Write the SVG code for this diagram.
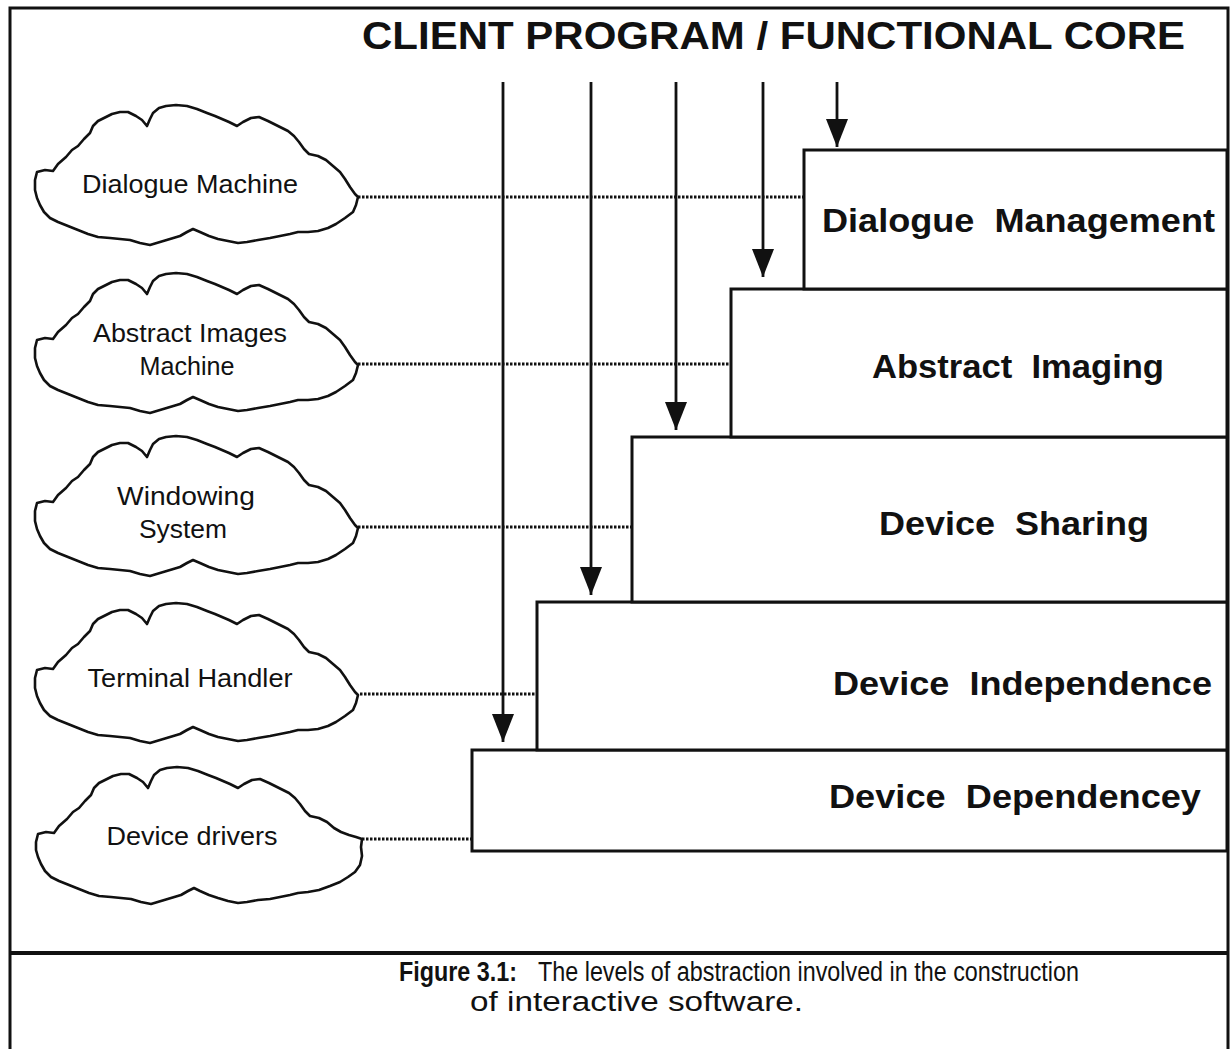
<svg xmlns="http://www.w3.org/2000/svg" xmlns:xlink="http://www.w3.org/1999/xlink" width="1232" height="1049" viewBox="0 0 1232 1049">
<style>
.frame{fill:none;stroke:#111;stroke-width:3}
.box{fill:#fff;stroke:#111;stroke-width:3}
.cloud{fill:#fff;stroke:#111;stroke-width:2.6;stroke-linejoin:round}
.dot{fill:none;stroke:#111;stroke-width:2.8;stroke-dasharray:2.5 1.5}
.arr{fill:none;stroke:#111;stroke-width:2.8}
.title{font-family:"Liberation Sans",Arial,sans-serif;font-weight:bold;font-size:39px;fill:#111}
.lbl{font-family:"Liberation Sans",Arial,sans-serif;font-weight:bold;font-size:33px;fill:#111}
.ct{font-family:"Liberation Sans",Arial,sans-serif;font-size:26px;fill:#111;text-anchor:middle}
.cap{font-family:"Liberation Sans",Arial,sans-serif;font-size:27px;fill:#111}
</style>
<defs>
<marker id="ah" markerUnits="userSpaceOnUse" markerWidth="30" markerHeight="24" refX="28" refY="11" orient="auto" viewBox="0 0 30 22">
<path d="M0,0 L28,11 L0,22 Z" fill="#111"/>
</marker>
<path id="cloudA" d="M35,180 L37,172 L45,170 L53,171 L58,164 L66,157 L72,150 L78,146 L84,139 L90,133 L93,126 L98,121 L106,117 L112,114 L120,112 L128,112 L136,116 L142,120 L147,126 L150,119 L153,113 L159,108 L166,106 L176,105 L187,106 L197,109 L207,113 L215,116 L222,119 L229,122 L237,126 L243,122 L251,118 L259,117 L268,121 L278,126 L288,131 L294,136 L299,142 L304,149 L309,154 L318,156 L326,160 L333,166 L340,172 L345,179 L350,187 L355,194 L358,197 L356,205 L353,212 L345,218 L336,224 L328,228 L318,231 L308,232 L298,232 L290,234 L280,236 L270,238 L258,240 L247,242 L238,243 L228,241 L218,239 L209,236 L200,232 L193,229 L187,232 L180,236 L170,239 L160,242 L150,245 L140,243 L130,240 L120,239 L110,238 L98,237 L88,234 L78,230 L68,226 L58,222 L50,218 L44,212 L40,205 L37,198 L35,190 Z"/>
</defs>
<rect x="0" y="0" width="1232" height="1049" fill="#fff"/>
<g id="frame">
<path class="frame" d="M10,1049 L10,8 L1228,8 L1228,1049"/>
<line x1="10" y1="953" x2="1228" y2="953" stroke="#111" stroke-width="4"/>
</g>
<g id="title">
<text class="title" x="362" y="49" textLength="823" lengthAdjust="spacingAndGlyphs">CLIENT PROGRAM / FUNCTIONAL CORE</text>
</g>
<g id="connectors">
<line class="dot" x1="358" y1="197" x2="804" y2="197"/>
<line class="dot" x1="358" y1="364" x2="731" y2="364"/>
<line class="dot" x1="358" y1="527" x2="632" y2="527"/>
<line class="dot" x1="360" y1="694" x2="537" y2="694"/>
<line class="dot" x1="362" y1="839" x2="472" y2="839"/>
<line class="arr" x1="503" y1="82" x2="503" y2="742" marker-end="url(#ah)"/>
<line class="arr" x1="591" y1="82" x2="591" y2="595" marker-end="url(#ah)"/>
<line class="arr" x1="676" y1="82" x2="676" y2="430" marker-end="url(#ah)"/>
<line class="arr" x1="763" y1="82" x2="763" y2="277" marker-end="url(#ah)"/>
<line class="arr" x1="837" y1="82" x2="837" y2="147" marker-end="url(#ah)"/>
</g>
<g id="layer-device-dependency">
<rect class="box" x="472" y="750" width="755" height="101"/>
<text class="lbl" x="829" y="808" textLength="372" lengthAdjust="spacingAndGlyphs" xml:space="preserve">Device  Dependencey</text>
</g>
<g id="layer-device-independence">
<rect class="box" x="537" y="602" width="690" height="148"/>
<text class="lbl" x="833" y="695" textLength="379" lengthAdjust="spacingAndGlyphs" xml:space="preserve">Device  Independence</text>
</g>
<g id="layer-device-sharing">
<rect class="box" x="632" y="437" width="595" height="165"/>
<text class="lbl" x="879" y="535" textLength="270" lengthAdjust="spacingAndGlyphs" xml:space="preserve">Device  Sharing</text>
</g>
<g id="layer-abstract-imaging">
<rect class="box" x="731" y="289" width="496" height="148"/>
<text class="lbl" x="872" y="378" textLength="292" lengthAdjust="spacingAndGlyphs" xml:space="preserve">Abstract  Imaging</text>
</g>
<g id="layer-dialogue-management">
<rect class="box" x="804" y="150" width="423" height="139"/>
<text class="lbl" x="822" y="232" textLength="393" lengthAdjust="spacingAndGlyphs" xml:space="preserve">Dialogue  Management</text>
</g>
<g id="cloud-dialogue-machine">
<use xlink:href="#cloudA" class="cloud"/>
<text class="ct" x="190" y="193" textLength="216" lengthAdjust="spacingAndGlyphs">Dialogue Machine</text>
</g>
<g id="cloud-abstract-images-machine">
<use xlink:href="#cloudA" class="cloud" transform="translate(0,168)"/>
<text class="ct" x="190" y="342" textLength="194" lengthAdjust="spacingAndGlyphs">Abstract Images</text>
<text class="ct" x="187" y="375" textLength="95" lengthAdjust="spacingAndGlyphs">Machine</text>
</g>
<g id="cloud-windowing-system">
<use xlink:href="#cloudA" class="cloud" transform="translate(0,331)"/>
<text class="ct" x="186" y="505" textLength="138" lengthAdjust="spacingAndGlyphs">Windowing</text>
<text class="ct" x="183" y="538" textLength="88" lengthAdjust="spacingAndGlyphs">System</text>
</g>
<g id="cloud-terminal-handler">
<use xlink:href="#cloudA" class="cloud" transform="translate(0,498)"/>
<text class="ct" x="190" y="687" textLength="205" lengthAdjust="spacingAndGlyphs">Terminal Handler</text>
</g>
<g id="cloud-device-drivers">
<path class="cloud" d="M36,842 L38,834 L46,832 L54,833 L59,826 L67,819 L73,812 L79,808 L85,801 L91,795 L94,788 L99,783 L107,779 L113,776 L121,774 L129,774 L137,778 L143,782 L148,788 L151,781 L154,775 L160,770 L167,768 L177,767 L188,768 L198,771 L208,775 L216,778 L223,781 L230,784 L238,788 L244,784 L252,780 L260,779 L269,783 L279,788 L289,793 L295,798 L300,804 L305,811 L310,816 L319,818 L327,822 L334,828 L341,832 L349,835 L356,837 L362,839 L361,847 L362,856 L360,865 L355,872 L348,877 L340,882 L330,886 L319,890 L308,892 L298,893 L290,895 L280,897 L270,899 L258,900 L247,902 L238,903 L228,901 L218,898 L209,895 L200,891 L194,888 L188,891 L181,895 L171,898 L161,901 L151,904 L141,902 L131,899 L121,898 L111,897 L99,896 L89,893 L79,889 L69,885 L59,881 L51,877 L45,871 L41,864 L38,857 L36,850 Z"/>
<text class="ct" x="192" y="845" textLength="171" lengthAdjust="spacingAndGlyphs">Device drivers</text>
</g>
<g id="caption">
<text class="cap" x="399" y="981" font-weight="bold" textLength="118" lengthAdjust="spacingAndGlyphs">Figure 3.1:</text>
<text class="cap" x="538" y="981" textLength="541" lengthAdjust="spacingAndGlyphs">The levels of abstraction involved in the construction</text>
<text class="cap" x="470" y="1011" textLength="333" lengthAdjust="spacingAndGlyphs">of interactive software.</text>
</g>
</svg>
